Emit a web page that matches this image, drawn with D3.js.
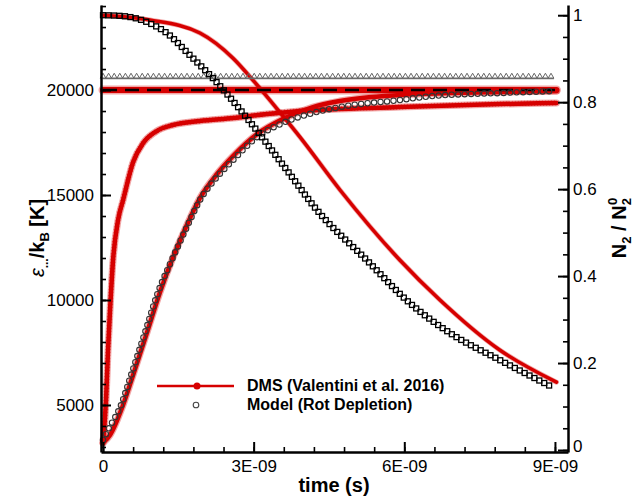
<!DOCTYPE html>
<html><head><meta charset="utf-8">
<script src="https://cdn.jsdelivr.net/npm/d3@7"></script>
<style>body{margin:0;background:#fff;} svg{display:block;font-family:"Liberation Sans",Arial,Helvetica,sans-serif;}</style>
</head><body><svg id="c" width="640" height="500"></svg>
<script>
// ---- data (time in ns) ----
const dmsN2Time = [0, 0.935, 1.93, 2.59, 3.02, 3.52, 3.92, 4.72, 5.91, 6.71, 7.90, 9.03];
const dmsN2 = [1.0, 0.989, 0.959, 0.901, 0.846, 0.777, 0.720, 0.598, 0.437, 0.345, 0.230, 0.156];
const modelN2Time = [0, 0.40, 0.88, 1.27, 1.73, 2.19, 2.87, 3.66, 4.26, 5.25, 6.11, 6.91, 7.90, 8.94];
const modelN2 = [1.0, 0.998, 0.984, 0.959, 0.908, 0.855, 0.763, 0.644, 0.552, 0.437, 0.338, 0.269, 0.207, 0.145];
const dmsRotTime = [0, 0.06, 0.10, 0.14, 0.20, 0.30, 0.40, 0.60, 0.80, 1.07, 1.39, 1.93, 2.59, 3.27, 3.92, 5.91, 7.90, 9.03];
const dmsRot = [3190, 5238, 7619, 9524, 11905, 13810, 14762, 16571, 17476, 18048, 18333, 18524, 18667, 18857, 19000, 19190, 19333, 19381];
const dmsVibTime = [0, 0.14, 0.40, 0.60, 0.88, 1.13, 1.39, 1.67, 1.93, 2.27, 2.59, 3.07, 3.58, 4.18, 4.72, 5.91, 6.91, 7.90, 9.03];
const dmsVib = [3190, 3571, 5000, 6429, 8476, 10333, 12000, 13571, 14857, 16000, 16857, 17905, 18619, 19190, 19476, 19762, 19857, 19905, 19952];
const modelVibTime = [0, 0.10, 0.36, 0.56, 0.84, 1.09, 1.37, 1.67, 1.93, 2.27, 2.59, 3.07, 3.58, 4.18, 4.72, 5.91, 6.57, 7.90, 8.96];
const modelVib = [3333, 3810, 5000, 6429, 8476, 10333, 11905, 13476, 14762, 15857, 16667, 17762, 18429, 18905, 19190, 19524, 19714, 19857, 19952];
const dmsTransTime = [0, 3.0, 6.0, 9.03];
const dmsTrans = [20000, 20000, 20000, 20000];
const modelTransTime = [0, 3.0, 6.0, 9.0];
const modelTrans = [20000, 20000, 20000, 20000];
const modelRotTime = [0, 3.0, 6.0, 8.98];
const modelRot = [20620, 20620, 20620, 20620];

const xTickVals = [0, 3, 6, 9];
const xTickLabels = ["0", "3E-09", "6E-09", "9E-09"];
const yLeftTicks = [5000, 10000, 15000, 20000];
const yRightTicks = [0, 0.2, 0.4, 0.6, 0.8, 1];
const yRightLabels = ["0", "0.2", "0.4", "0.6", "0.8", "1"];
const legendLabels = ["DMS (Valentini et al. 2016)", "Model (Rot Depletion)"];

// ---- layout ----
const svg = d3.select("#c");
const L = 101, R = 568, T = 5, B = 452;
const RED = "#d60000";
const x = d3.scaleLinear().domain([-0.04, 9.26]).range([L, R]);
const yL = d3.scaleLinear().domain([2760, 24050]).range([B, T]);
const yR = d3.scaleLinear().domain([-0.0046, 1.0235]).range([B, T]);

function zip(ts, vs) { return ts.map((t, i) => [t, vs[i]]); }
const lineL = d3.line().x(d => x(d[0])).y(d => yL(d[1])).curve(d3.curveMonotoneX);
const lineR = d3.line().x(d => x(d[0])).y(d => yR(d[1])).curve(d3.curveMonotoneX);

function along(path, step) {
  const n = path.node(); const len = n.getTotalLength(); const pts = [];
  for (let s = 0; s <= len + 0.01; s += step) { const p = n.getPointAtLength(Math.min(s, len)); pts.push([p.x, p.y]); }
  return pts;
}
const g = svg.append("g");
function dmsSeries(data, gen, w, halo, starSize) {
  g.append("path").datum(data).attr("d", gen).attr("fill", "none")
    .attr("stroke", RED).attr("stroke-opacity", 0.35).attr("stroke-width", w + halo)
    .attr("stroke-linejoin", "round").attr("stroke-linecap", "round");
  const p = g.append("path").datum(data).attr("d", gen).attr("fill", "none")
    .attr("stroke", RED).attr("stroke-width", w).attr("stroke-linejoin", "round").attr("stroke-linecap", "round");
  if (starSize > 0) {
    g.append("g").selectAll("path").data(along(p, 3)).join("path")
      .attr("transform", d => `translate(${d[0]},${d[1]})`)
      .attr("d", d3.symbol(d3.symbolStar, starSize)).attr("fill", RED).attr("opacity", 0.6);
  }
}
dmsSeries(zip(dmsTransTime, dmsTrans), lineL, 6, 3, 0);
dmsSeries(zip(dmsRotTime, dmsRot), lineL, 4.5, 2.5, 12);
dmsSeries(zip(dmsVibTime, dmsVib), lineL, 4.5, 2.5, 0);
dmsSeries(zip(dmsN2Time, dmsN2), lineR, 3.5, 1.5, 0);

// model: rot (gray triangles)
const pRot = g.append("path").datum(zip(modelRotTime, modelRot)).attr("d", lineL)
  .attr("fill", "none").attr("stroke", "#777").attr("stroke-width", 1.6).attr("transform", "translate(0,1.5)");
g.append("g").selectAll("path").data(along(pRot, 5.6)).join("path")
  .attr("transform", d => `translate(${d[0]},${d[1] - 0.5})`)
  .attr("d", d3.symbol(d3.symbolTriangle, 14)).attr("fill", "none").attr("stroke", "#666").attr("stroke-width", 1);
// model: trans (dashed)
g.append("path").datum(zip(modelTransTime, modelTrans)).attr("d", lineL)
  .attr("fill", "none").attr("stroke", "#000").attr("stroke-width", 2.6).attr("stroke-dasharray", "14,8");
// model: vib (circles)
const pVib = g.append("path").datum(zip(modelVibTime, modelVib)).attr("d", lineL).attr("fill", "none").attr("stroke", "none");
g.append("g").selectAll("circle").data(along(pVib, 6.5)).join("circle")
  .attr("cx", d => d[0]).attr("cy", d => d[1]).attr("r", 2.7)
  .attr("fill", "none").attr("stroke", "#333").attr("stroke-width", 1.1);
// model: N2 (squares)
const pN2 = g.append("path").datum(zip(modelN2Time, modelN2)).attr("d", lineR).attr("fill", "none").attr("stroke", "none");
g.append("g").selectAll("rect").data(along(pN2, 5.5)).join("rect")
  .attr("x", d => d[0] - 2.5).attr("y", d => d[1] - 2.5).attr("width", 5).attr("height", 5)
  .attr("fill", "none").attr("stroke", "#000").attr("stroke-width", 1.3);

// ---- axes ----
function styleAxis(sel, fs) {
  sel.select(".domain").attr("stroke", "#000").attr("stroke-width", 2.5);
  sel.selectAll(".tick line").attr("stroke", "#000").attr("stroke-width", 2);
  sel.selectAll(".tick text").attr("font-size", fs).attr("fill", "#000")
    .attr("font-family", '"Liberation Sans",Arial,sans-serif');
}
const ax = svg.append("g");
ax.append("g").attr("transform", `translate(0,${B})`)
  .call(d3.axisBottom(x).tickValues(d3.range(0, 9.01, 0.6)).tickSizeInner(-5).tickSizeOuter(0).tickFormat(""))
  .call(s => { s.select(".domain").remove(); s.selectAll(".tick line").attr("stroke", "#000").attr("stroke-width", 1.6); });
ax.append("g").attr("transform", `translate(${L},0)`)
  .call(d3.axisLeft(yL).tickValues(d3.range(3000, 24001, 1000)).tickSizeInner(-5).tickSizeOuter(0).tickFormat(""))
  .call(s => { s.select(".domain").remove(); s.selectAll(".tick line").attr("stroke", "#000").attr("stroke-width", 1.6); });
ax.append("g").attr("transform", `translate(${R},0)`)
  .call(d3.axisRight(yR).tickValues(d3.range(0, 1.001, 0.05)).tickSizeInner(-5).tickSizeOuter(0).tickFormat(""))
  .call(s => { s.select(".domain").remove(); s.selectAll(".tick line").attr("stroke", "#000").attr("stroke-width", 1.6); });
ax.append("g").attr("transform", `translate(0,${B})`)
  .call(d3.axisBottom(x).tickValues(xTickVals).tickFormat((d, i) => xTickLabels[i]).tickSizeInner(-10).tickSizeOuter(0).tickPadding(8))
  .call(s => styleAxis(s, 17));
ax.append("g").attr("transform", `translate(${L},0)`)
  .call(d3.axisLeft(yL).tickValues(yLeftTicks).tickFormat(d3.format("d")).tickSizeInner(-10).tickSizeOuter(0).tickPadding(7))
  .call(s => styleAxis(s, 17));
ax.append("g").attr("transform", `translate(${R},0)`)
  .call(d3.axisRight(yR).tickValues(yRightTicks).tickFormat((d, i) => yRightLabels[i]).tickSizeInner(-10).tickSizeOuter(0).tickPadding(5))
  .call(s => styleAxis(s, 17))
  .call(s => s.selectAll(".tick text").filter(d => d === 0).attr("dy", "0.1em"));

// axis titles
svg.append("text").attr("x", 334).attr("y", 492).attr("text-anchor", "middle")
  .attr("font-size", 20).attr("font-weight", "bold").text("time (s)");
const lt = svg.append("text").attr("transform", "translate(44,238) rotate(-90)")
  .attr("text-anchor", "middle").attr("font-size", 20).attr("font-weight", "bold");
lt.append("tspan").attr("font-style", "italic").attr("font-weight", "normal").text("ε");
lt.append("tspan").attr("font-size", 12).attr("dy", 4).text("...");
lt.append("tspan").attr("dy", -4).text("/k");
lt.append("tspan").attr("font-size", 13).attr("dy", 5).text("B");
lt.append("tspan").attr("dy", -5).text(" [K]");
const rt = svg.append("text").attr("transform", "translate(626,228) rotate(-90)")
  .attr("text-anchor", "middle").attr("font-size", 20).attr("font-weight", "bold");
rt.append("tspan").text("N");
rt.append("tspan").attr("font-size", 13).attr("dy", 5).text("2");
rt.append("tspan").attr("dy", -5).text(" / N");
rt.append("tspan").attr("font-size", 13).attr("dy", 5).text("2");
rt.append("tspan").attr("font-size", 13).attr("dx", -7).attr("dy", -14).text("0");

// legend
const lg = svg.append("g");
lg.append("line").attr("x1", 157).attr("x2", 234).attr("y1", 386).attr("y2", 386).attr("stroke", RED).attr("stroke-width", 2.5);
lg.append("circle").attr("cx", 197).attr("cy", 386).attr("r", 3.5).attr("fill", RED);
lg.append("circle").attr("cx", 196).attr("cy", 405).attr("r", 2.8).attr("fill", "none").attr("stroke", "#444").attr("stroke-width", 1.1);
lg.selectAll("text.lg").data(legendLabels).join("text").attr("class", "lg")
  .attr("x", 247).attr("y", (d, i) => 391 + i * 19).attr("font-size", 16).attr("font-weight", "bold").text(d => d);
</script></body></html>
